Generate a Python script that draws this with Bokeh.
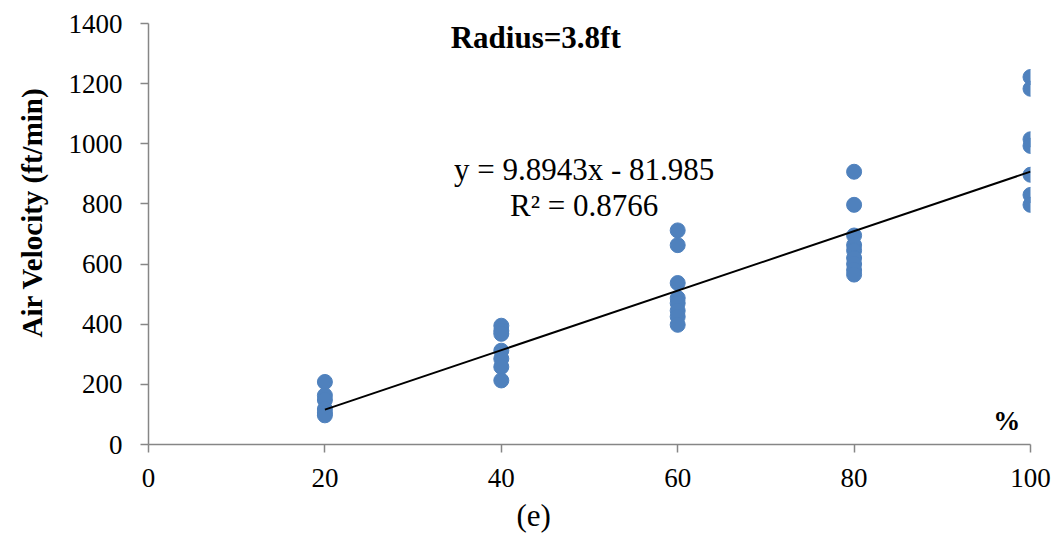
from bokeh.plotting import figure
from bokeh.models import Label, FixedTicker, Range1d, Title
from bokeh.embed import file_html
from bokeh.resources import INLINE

# Fan speed setting (%) and measured air velocity (ft/min) at radius 3.8 ft
x20 = [208, 163, 148, 118, 105, 97]
x40 = [395, 378, 368, 312, 285, 258, 213]
x60 = [712, 663, 537, 487, 470, 445, 425, 398]
x80 = [907, 797, 695, 663, 645, 620, 600, 580, 565]
x100 = [1222, 1183, 1015, 993, 897, 830, 797]
settings = [20, 40, 60, 80, 100]
groups = [x20, x40, x60, x80, x100]

# Linear trend line coefficients
slope = 9.8943
intercept = -81.985
r_squared = 0.8766

x_ticks = [0, 20, 40, 60, 80, 100]
y_ticks = [0, 200, 400, 600, 800, 1000, 1200, 1400]

xs, ys = [], []
for s, g in zip(settings, groups):
    xs += [s] * len(g)
    ys += g

FONT = "Liberation Serif"
AXIS_GREY = "#868686"

p = figure(width=1057, height=538, output_backend="svg", toolbar_location=None,
           x_range=Range1d(0, 100), y_range=Range1d(0, 1400),
           min_border_left=148, min_border_right=27,
           min_border_top=23, min_border_bottom=93)
p.outline_line_color = None
p.xgrid.grid_line_color = None
p.ygrid.grid_line_color = None
p.background_fill_color = "white"
p.border_fill_color = "white"

for ax in (p.xaxis[0], p.yaxis[0]):
    ax.axis_line_color = AXIS_GREY
    ax.axis_line_width = 1.5
    ax.major_tick_line_color = AXIS_GREY
    ax.major_tick_line_width = 1.5
    ax.major_tick_in = 0
    ax.major_tick_out = 8
    ax.minor_tick_line_color = None
    ax.major_label_text_font = FONT
    ax.major_label_text_font_size = "27px"
    ax.major_label_text_color = "black"

p.xaxis.ticker = FixedTicker(ticks=x_ticks)
p.yaxis.ticker = FixedTicker(ticks=y_ticks)
p.xaxis.major_label_standoff = 16
p.yaxis.major_label_standoff = 18

p.scatter(xs, ys, size=15, color="#4F81BD", line_color="#4F81BD")

tx = [settings[0], settings[-1]]
ty = [slope * v + intercept for v in tx]
p.line(tx, ty, line_color="black", line_width=2)


def add_text(x, y, text, size, bold=False):
    p.add_layout(Label(x=x, y=y, text=text, text_font=FONT,
                       text_font_size=size, text_color="black",
                       text_font_style="bold" if bold else "normal",
                       text_align="center", text_baseline="middle"))


add_text(43.9, 1355, "Radius=3.8ft", "31px", bold=True)
add_text(49.4, 915, f"y = {slope}x - {abs(intercept)}", "31px")
add_text(49.4, 795, f"R\u00b2 = {r_squared}", "31px")
add_text(97.3, 78, "%", "27px", bold=True)

# Axis captions placed as side titles so they can sit off-centre
y_caption = Title(text="Air Velocity (ft/min)", text_font=FONT,
                  text_font_size="29px", text_font_style="bold",
                  text_color="black", align="left", vertical_align="top",
                  offset=107, standoff=31)
p.add_layout(y_caption, "left")

x_caption = Title(text="(e)", text_font=FONT, text_font_size="31px",
                  text_font_style="normal", text_color="black",
                  align="left", offset=368, standoff=12)
p.add_layout(x_caption, "below")

open("out.html", "w").write(file_html(p, INLINE))
